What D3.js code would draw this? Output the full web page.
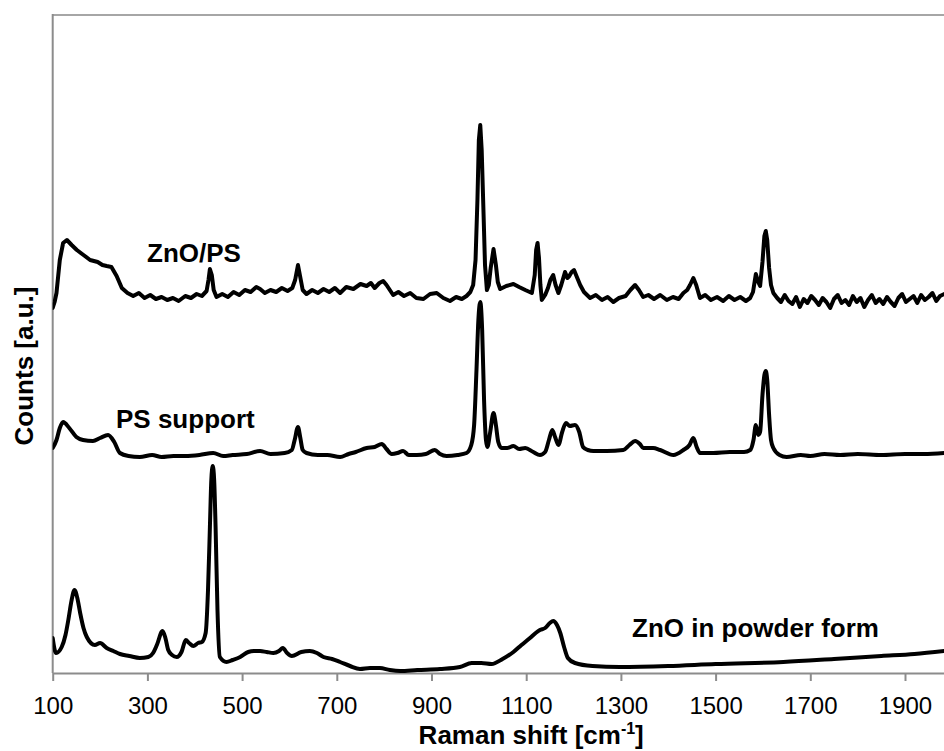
<!DOCTYPE html>
<html><head><meta charset="utf-8">
<script src="https://cdn.jsdelivr.net/npm/d3@7/dist/d3.min.js"></script>
<style>body{margin:0;background:#fff}svg{display:block}</style>
</head><body>
<svg id="c" width="944" height="751"></svg>
<script>
// ---- data (Raman shift in cm-1, counts in arbitrary units) ----
const znoPsShift = [100,104,108,115,122,130,140,151,165,179,195,205,214,224,235,246,258,270,282,294,306,318,330,342,354,366,380,392,404,415,425,429,432,436,440,446,458,470,482,494,506,518,530,538,548,560,572,584,596,606,612,618,622,628,636,648,660,672,684,696,707,720,735,750,763,772,780,790,798,805,812,819,830,842,855,868,883,897,911,925,939,952,964,974,982,988,993,997,1000,1003,1006,1010,1013,1017,1021,1025,1031,1036,1040,1045,1058,1073,1085,1098,1112,1118,1121,1124,1127,1130,1133,1140,1146,1151,1157,1162,1168,1174,1182,1187,1191,1196,1201,1207,1214,1222,1235,1247,1260,1272,1284,1296,1310,1320,1330,1338,1347,1358,1370,1383,1397,1410,1422,1432,1440,1446,1453,1459,1467,1478,1490,1503,1516,1528,1540,1552,1564,1573,1579,1585,1590,1594,1599,1603,1606,1609,1613,1617,1622,1630,1638,1646,1654,1662,1670,1678,1686,1694,1702,1710,1718,1726,1734,1742,1750,1758,1766,1774,1782,1790,1798,1806,1814,1822,1830,1838,1846,1854,1862,1870,1878,1886,1894,1902,1910,1918,1926,1934,1942,1950,1958,1966,1974,1983];
const znoPsCounts = [365,371,380,413,430,433,428,423,418,413,411,408,407,406,397,385,380,377,380,375,378,374,376,373,375,372,377,375,379,377,382,393,404,398,383,376,379,376,381,378,383,381,386,384,380,383,381,385,382,385,393,408,398,383,379,383,380,384,381,385,380,386,384,389,387,390,385,390,392,388,383,378,381,377,380,375,374,379,380,375,372,376,374,377,381,388,413,473,533,548,523,458,408,383,388,405,424,408,391,384,387,389,386,383,380,398,423,430,415,388,373,378,385,393,398,388,380,388,401,395,397,401,403,396,388,381,375,378,373,376,371,375,377,383,388,383,376,378,374,378,373,376,374,380,383,388,395,388,375,378,373,376,372,377,373,376,372,375,381,399,391,387,411,437,442,433,405,388,380,375,371,378,372,369,376,366,374,370,377,373,368,375,371,365,374,378,370,373,368,377,371,375,366,373,378,370,374,369,376,371,367,375,379,371,374,377,370,378,373,376,380,372,377,379];

const psShift = [100,108,115,122,135,150,164,185,200,217,230,242,260,284,310,330,355,380,410,439,460,480,510,538,560,590,605,611,618,623,628,636,660,680,707,725,740,763,780,795,805,816,828,840,852,869,888,907,918,932,955,974,984,990,995,999,1003,1007,1011,1015,1018,1024,1031,1036,1041,1048,1060,1073,1085,1098,1115,1129,1140,1148,1155,1161,1168,1176,1184,1192,1203,1212,1220,1230,1242,1270,1305,1318,1330,1340,1347,1368,1383,1411,1432,1445,1453,1460,1467,1495,1530,1560,1573,1580,1585,1590,1594,1599,1603,1606,1609,1613,1617,1622,1635,1650,1680,1700,1730,1763,1800,1850,1900,1940,1983];
const psCounts = [225,233,245,251,245,236,233,232,235,238,231,220,217,216,218,216,217,217,218,220,217,218,219,222,219,220,223,233,246,235,223,220,218,218,216,219,221,225,226,229,224,219,220,222,218,218,219,223,219,217,218,220,228,248,303,353,371,343,273,233,226,241,260,248,231,225,225,227,224,225,221,218,221,233,243,236,228,241,250,247,248,241,226,223,222,222,223,228,232,229,225,225,223,218,223,228,235,226,220,220,221,221,223,233,248,238,241,278,298,302,293,258,233,225,218,216,218,217,219,218,219,218,219,219,220];

const znoShift = [100,107,119,127,133,140,146,152,158,165,172,189,200,214,228,242,262,284,302,312,320,332,338,344,352,362,372,381,388,397,407,415,423,428,432,435,438,441,444,448,453,467,480,496,513,525,538,552,566,578,586,595,605,625,643,658,672,690,707,728,749,770,791,812,834,870,918,960,985,1005,1027,1050,1073,1090,1108,1120,1129,1140,1150,1157,1165,1172,1180,1188,1203,1240,1298,1400,1500,1643,1750,1850,1920,1983];
const znoCounts = [35,20,26,38,53,73,83,75,60,45,36,28,30,25,22,19,17,15,16,20,28,42,35,23,18,16,21,33,30,27,30,31,40,83,146,193,207,193,146,63,16,11,13,16,21,22,22,21,20,22,25,20,17,21,22,20,16,14,11,7,4,5,5,3,2,3,4,6,10,10,9,14,21,28,35,40,43,45,50,52,48,40,26,15,10,7,6,7,9,11,14,17,19,22];

const xTicks = [100,300,500,700,900,1100,1300,1500,1700,1900];
const seriesLabels = ["ZnO/PS","PS support","ZnO in powder form"];

// ---- chart ----
const svg = d3.select("#c");
const mLeft = 52.7, mTop = 14, mBottom = 673, plotRight = 999.7;
const x = d3.scaleLinear().domain([100,2100]).range([mLeft, plotRight]);
const y = d3.scaleLinear().domain([0,659]).range([mBottom, mTop]);

svg.append("defs").append("clipPath").attr("id","clip")
  .append("rect").attr("x",mLeft).attr("y",mTop).attr("width",plotRight-mLeft).attr("height",mBottom-mTop);

// plot frame (top border)
svg.append("line").attr("x1",mLeft).attr("x2",plotRight).attr("y1",mTop+1).attr("y2",mTop+1)
  .attr("stroke","#a6a6a6").attr("stroke-width",2);
// left axis line
svg.append("line").attr("x1",mLeft).attr("x2",mLeft).attr("y1",mTop).attr("y2",mBottom)
  .attr("stroke","#8c8c8c").attr("stroke-width",2);

// x axis
const xAxis = d3.axisBottom(x).tickValues(xTicks).tickSize(8).tickSizeOuter(0).tickFormat(d3.format("d"));
const gx = svg.append("g").attr("transform",`translate(0,${mBottom})`).call(xAxis);
gx.select(".domain").attr("stroke","#8c8c8c").attr("stroke-width",2);
gx.selectAll(".tick line").attr("stroke","#8c8c8c").attr("stroke-width",2);
gx.selectAll(".tick text").attr("fill","#000").attr("font-family","Liberation Sans, Arial, sans-serif")
  .attr("font-size",24).attr("dy",null).attr("y",41);

const series = [
  {pts: d3.zip(znoPsShift, znoPsCounts), curve: d3.curveLinear},
  {pts: d3.zip(psShift, psCounts), curve: d3.curveMonotoneX},
  {pts: d3.zip(znoShift, znoCounts), curve: d3.curveMonotoneX}
];
svg.append("g").attr("clip-path","url(#clip)").selectAll("path").data(series).join("path")
  .attr("d", s => d3.line().x(d=>x(d[0])).y(d=>y(d[1])).curve(s.curve)(s.pts))
  .attr("fill","none").attr("stroke","#000").attr("stroke-width",4)
  .attr("stroke-linejoin","round").attr("stroke-linecap","round");

const font = "Liberation Sans, Arial, sans-serif";
const labelPos = [[147,262],[116,428],[632,637]];
svg.selectAll("text.lbl").data(seriesLabels).join("text").attr("class","lbl")
  .attr("x",(d,i)=>labelPos[i][0]).attr("y",(d,i)=>labelPos[i][1])
  .attr("font-family",font).attr("font-weight","bold").attr("font-size",26).attr("fill","#000")
  .text(d=>d);

// axis titles
const xt = svg.append("text").attr("x",(mLeft+plotRight)/2 + 5).attr("y",744).attr("text-anchor","middle")
  .attr("font-family",font).attr("font-weight","bold").attr("font-size",26).attr("fill","#000");
xt.append("tspan").text("Raman shift [cm");
xt.append("tspan").attr("font-size",16).attr("dy",-10).text("-1");
xt.append("tspan").attr("dy",10).text("]");

svg.append("text").attr("transform","translate(33,366) rotate(-90)").attr("text-anchor","middle")
  .attr("font-family",font).attr("font-weight","bold").attr("font-size",26).attr("fill","#000")
  .text("Counts [a.u.]");
</script>
</body></html>
